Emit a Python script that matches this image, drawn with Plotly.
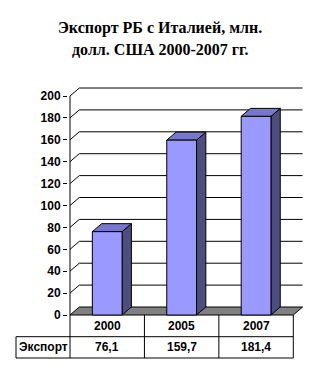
import plotly.graph_objects as go

# ---- data ----
categories = ["2000", "2005", "2007"]
values = [76.1, 159.7, 181.4]
row_label = "Экспорт"
tick_values = [0, 20, 40, 60, 80, 100, 120, 140, 160, 180, 200]
title_lines = ["Экспорт РБ с Италией, млн.", "долл. США 2000-2007 гг."]

W, H = 320, 379
# pixel geometry of plot
PX0, PXC = 70.0, 74.43      # px of x=-0.5, px per category
PY0, PYU = 315.0, 1.095     # px of y=0, px per unit
DX = 9.3 / PXC              # depth offset in x units
DY = 8.0 / PYU              # depth offset in y units
BW = 0.4                    # bar width in category units

xs = list(range(len(categories)))
xr = [-0.5 - 2 / PXC, -0.5 + (306 - PX0) / PXC]
yr = [-2 / PYU, (PY0 - 85) / PYU]
xdom = [(PX0 + (xr[0] + 0.5) * PXC) / W, (PX0 + (xr[1] + 0.5) * PXC) / W]
ydom = [1 - (PY0 - yr[0] * PYU) / H, 1 - (PY0 - yr[1] * PYU) / H]

def xpx(x):
    return PX0 + (x + 0.5) * PXC

fig = go.Figure()
line_k = dict(color="black", width=1)
xl, xh = -0.5, len(categories) - 0.5

# floor
fig.add_trace(go.Scatter(x=[xl, xh, xh + DX, xl + DX, xl], y=[0, 0, DY, DY, 0],
                         fill="toself", fillcolor="#808080", mode="lines",
                         line=line_k, hoverinfo="skip", showlegend=False))
# gridlines with depth
for v in tick_values[1:]:
    fig.add_trace(go.Scatter(x=[xl, xl + DX, xh + DX], y=[v, v + DY, v + DY],
                             mode="lines", line=line_k, hoverinfo="skip", showlegend=False))
# y-axis line
fig.add_trace(go.Scatter(x=[xl, xl], y=[0, tick_values[-1]], mode="lines",
                         line=line_k, hoverinfo="skip", showlegend=False))

# 3D bars
for x, v in zip(xs, values):
    l, r = x - BW / 2, x + BW / 2
    fig.add_trace(go.Scatter(x=[r, r + DX, r + DX, r, r], y=[0, DY, v + DY, v, 0],
                             fill="toself", fillcolor="#4D4D80", mode="lines",
                             line=line_k, hoverinfo="skip", showlegend=False))
    fig.add_trace(go.Scatter(x=[l, r, r + DX, l + DX, l], y=[v, v, v + DY, v + DY, v],
                             fill="toself", fillcolor="#7777CC", mode="lines",
                             line=line_k, hoverinfo="skip", showlegend=False))
    fig.add_trace(go.Scatter(x=[l, r, r, l, l], y=[0, 0, v, v, 0],
                             fill="toself", fillcolor="#9999FF", mode="lines",
                             line=line_k, name=categories[x], showlegend=False))

# ---- data table below ----
shapes = []
annotations = []
def px2x(p): return p / W
def py2y(p): return 1 - p / H
row1_top, row1_bot, row2_bot = 315.0, 336.7, 358.0
left_px = 16.0
bounds = [xpx(xl + i) for i in range(len(categories) + 1)]
lk = dict(color="black", width=1)
for b in bounds:
    shapes.append(dict(type="line", xref="paper", yref="paper", x0=px2x(b), x1=px2x(b),
                       y0=py2y(row1_top), y1=py2y(row2_bot), line=lk))
shapes.append(dict(type="line", xref="paper", yref="paper", x0=px2x(left_px), x1=px2x(left_px),
                   y0=py2y(row1_bot), y1=py2y(row2_bot), line=lk))
for yy in (row1_bot, row2_bot):
    shapes.append(dict(type="line", xref="paper", yref="paper", x0=px2x(left_px), x1=px2x(bounds[-1]),
                       y0=py2y(yy), y1=py2y(yy), line=lk))

tfont = dict(family="Liberation Sans, Arial", size=12, color="black", weight="bold")
for i, (c, v) in enumerate(zip(categories, values)):
    cx = (bounds[i] + bounds[i + 1]) / 2
    annotations.append(dict(text=c, xref="paper", yref="paper", x=px2x(cx),
                            y=py2y((row1_top + row1_bot) / 2), showarrow=False,
                            xanchor="center", yanchor="middle", font=tfont))
    annotations.append(dict(text=f"{v:.1f}".replace(".", ","), xref="paper", yref="paper",
                            x=px2x(cx), y=py2y((row1_bot + row2_bot) / 2), showarrow=False,
                            xanchor="center", yanchor="middle", font=tfont))
annotations.append(dict(text=row_label, xref="paper", yref="paper", x=px2x((left_px + bounds[0]) / 2),
                        y=py2y((row1_bot + row2_bot) / 2), showarrow=False,
                        xanchor="center", yanchor="middle", font=tfont))

# title
title_font = dict(family="Liberation Serif, Times New Roman", size=16, color="black")
for line, py in zip(title_lines, (28, 50)):
    annotations.append(dict(text=f"<b>{line}</b>", xref="paper", yref="paper", x=0.5,
                            y=py2y(py), showarrow=False, xanchor="center", yanchor="middle",
                            font=title_font))

fig.update_layout(
    template="none",
    width=W, height=H, margin=dict(l=0, r=0, t=0, b=0, pad=0),
    paper_bgcolor="white", plot_bgcolor="white",
    xaxis=dict(range=xr, domain=xdom, visible=False, fixedrange=True, automargin=False),
    yaxis=dict(range=yr, domain=ydom, tickvals=tick_values, ticks="outside", ticklen=4,
               tickcolor="black", showgrid=False, zeroline=False, showline=False,
               automargin=False,
               tickfont=dict(family="Liberation Sans, Arial", size=12, color="black",
                             weight="bold"),
               fixedrange=True),
    shapes=shapes, annotations=annotations, showlegend=False,
)
fig.write_html("out.html", config={"displayModeBar": False})
